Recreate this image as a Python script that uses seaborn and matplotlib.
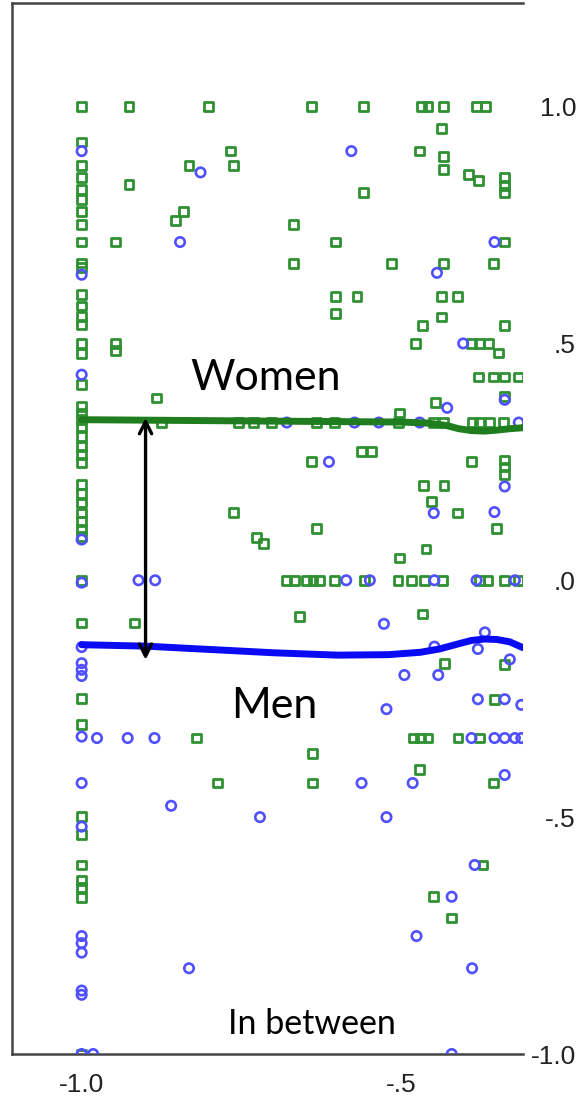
import numpy as np
import pandas as pd
import matplotlib
matplotlib.use("Agg")
import matplotlib.pyplot as plt
import seaborn as sns

# ---------------- data ----------------
# Women (green squares) stacked at x = -1.0
women_col_y = [1.0, 0.925, 0.875, 0.851, 0.825, 0.804, 0.779, 0.751, 0.714, 0.670,
               0.660, 0.603, 0.579, 0.557, 0.540, 0.500, 0.479, 0.413, 0.367, 0.353,
               0.339, 0.325, 0.304, 0.283, 0.265, 0.249, 0.202, 0.184, 0.163, 0.142,
               0.124, 0.107, 0.093, 0.0, -0.090, -0.249, -0.305, -0.499, -0.537,
               -0.601, -0.633, -0.648, -0.669, -1.0]
women_x = [-0.926, -0.802, -0.640, -0.559, -0.468, -0.458, -0.434, -0.382, -0.368,
           -0.437, -0.926, -0.947, -0.947, -0.947, -0.832, -0.767, -0.762, -0.841, -0.853,
           -0.669, -0.669, -0.471, -0.434, -0.434, -0.395, -0.379, -0.338, -0.338, -0.338,
           -0.559, -0.603, -0.338, -0.515, -0.434, -0.355, -0.603, -0.569, -0.603,
           -0.437, -0.412, -0.437, -0.467, -0.338, -0.477, -0.390, -0.377, -0.363, -0.348,
           -0.379, -0.356, -0.338, -0.317, -0.338, -0.446, -0.503, -0.883,
           -0.875, -0.754, -0.731, -0.703, -0.633, -0.604, -0.504, -0.449, -0.434, -0.388,
           -0.377, -0.362, -0.340,
           -0.562, -0.547, -0.640, -0.390, -0.338, -0.338, -0.338, -0.465, -0.433, -0.453,
           -0.412, -0.351, -0.632, -0.461, -0.503, -0.762, -0.726, -0.716,
           -0.680, -0.667, -0.648, -0.638, -0.628, -0.604, -0.557, -0.505, -0.484, -0.463,
           -0.435, -0.377, -0.364, -0.338, -0.317,
           -0.917, -0.659, -0.467, -0.432, -0.338, -0.354,
           -0.820, -0.481, -0.470, -0.458, -0.411, -0.378, -0.639, -0.471,
           -0.787, -0.639, -0.356, -0.372, -0.449, -0.421]
women_y = [1.0, 1.0, 1.0, 1.0, 1.0, 1.0, 1.0, 1.0, 1.0,
           0.953, 0.835, 0.714, 0.500, 0.485, 0.875, 0.906, 0.875, 0.779, 0.760,
           0.751, 0.668, 0.906, 0.895, 0.867, 0.856, 0.844, 0.851, 0.834, 0.818,
           0.818, 0.714, 0.714, 0.668, 0.668, 0.668, 0.599, 0.599, 0.563,
           0.599, 0.599, 0.556, 0.538, 0.538, 0.500, 0.500, 0.500, 0.500, 0.480,
           0.429, 0.429, 0.429, 0.429, 0.388, 0.376, 0.353, 0.385,
           0.333, 0.333, 0.333, 0.333, 0.333, 0.333, 0.333, 0.333, 0.333, 0.333,
           0.333, 0.333, 0.333,
           0.272, 0.272, 0.250, 0.250, 0.254, 0.239, 0.223, 0.200, 0.200, 0.167,
           0.142, 0.110, 0.110, 0.066, 0.047, 0.143, 0.091, 0.077,
           0.0, 0.0, 0.0, 0.0, 0.0, 0.0, 0.0, 0.0, 0.0, 0.0,
           0.0, 0.0, 0.0, 0.0, 0.0,
           -0.090, -0.076, -0.071, -0.175, -0.178, -0.251,
           -0.333, -0.333, -0.333, -0.333, -0.333, -0.333, -0.366, -0.400,
           -0.428, -0.428, -0.428, -0.601, -0.668, -0.713]

# Men (blue circles) stacked at x = -1.0
men_col_y = [0.906, 0.645, 0.434, 0.086, -0.005, -0.141, -0.175, -0.189, -0.202,
             -0.330, -0.428, -0.520, -0.751, -0.766, -0.786, -0.866, -0.875, -1.0]
men_x = [-0.814, -0.846, -0.578, -0.354, -0.444, -0.403, -0.338, -0.428,
         -0.679, -0.573, -0.535, -0.471, -0.316,
         -0.613, -0.338, -0.449, -0.354,
         -0.911, -0.885, -0.586, -0.549, -0.448, -0.382, -0.322,
         -0.527, -0.448, -0.380, -0.369, -0.330, -0.495, -0.442, -0.380, -0.338,
         -0.312, -0.523,
         -0.976, -0.928, -0.886, -0.390, -0.354, -0.338, -0.322, -0.312,
         -0.338, -0.562, -0.482, -0.860, -0.721, -0.523,
         -0.385, -0.421, -0.476, -0.832, -0.389, -0.982, -0.421]
men_y = [0.861, 0.714, 0.906, 0.714, 0.649, 0.500, 0.381, 0.364,
         0.333, 0.333, 0.333, 0.333, 0.333,
         0.250, 0.198, 0.142, 0.144,
         0.0, 0.0, 0.0, 0.0, 0.0, 0.0, 0.0,
         -0.092, -0.140, -0.145, -0.110, -0.167, -0.200, -0.200, -0.251, -0.251,
         -0.263, -0.272,
         -0.333, -0.333, -0.333, -0.333, -0.333, -0.333, -0.333, -0.333,
         -0.411, -0.428, -0.428, -0.476, -0.500, -0.500,
         -0.601, -0.668, -0.751, -0.819, -0.819, -1.0, -1.0]

# Fit lines (loess-like curves)
women_fit_x = [-1.0, -0.9, -0.8, -0.7, -0.6, -0.5, -0.46, -0.43, -0.41, -0.39,
               -0.37, -0.35, -0.33, -0.31]
women_fit_y = [0.339, 0.338, 0.337, 0.336, 0.335, 0.334, 0.332, 0.327, 0.320, 0.316,
               0.315, 0.317, 0.320, 0.322]
men_fit_x = [-1.0, -0.9, -0.8, -0.7, -0.6, -0.52, -0.47, -0.44, -0.41, -0.39,
             -0.37, -0.35, -0.33, -0.31]
men_fit_y = [-0.136, -0.139, -0.146, -0.153, -0.158, -0.157, -0.152, -0.145, -0.134,
             -0.127, -0.124, -0.125, -0.130, -0.142]

x_ticks = [-1.0, -0.5]
x_tick_labels = ["-1.0", "-.5"]
y_ticks = [1.0, 0.5, 0.0, -0.5, -1.0]
y_tick_labels = ["1.0", ".5", ".0", "-.5", "-1.0"]

# ---------------- build frames ----------------
women = pd.DataFrame({
    "x": [-1.0] * len(women_col_y) + women_x,
    "y": women_col_y + women_y,
})
men = pd.DataFrame({
    "x": [-1.0] * len(men_col_y) + men_x,
    "y": men_col_y + men_y,
})
women_fit = pd.DataFrame({"x": women_fit_x, "y": women_fit_y})
men_fit = pd.DataFrame({"x": men_fit_x, "y": men_fit_y})

sns.set_theme(style="white")
plt.rcParams["font.family"] = ["Liberation Sans", "DejaVu Sans"]

W, H = 577, 1102
fig = plt.figure(figsize=(W / 100, H / 100), dpi=100)
ax_left, ax_right = 12, 522.6
ax = fig.add_axes([ax_left / W, (H - 1054) / H, (ax_right - ax_left) / W, (1054 - 3.3) / H])

green_pt = "#2f9132"
blue_pt = "#5050ff"

sns.scatterplot(data=women, x="x", y="y", marker="s", s=40, ax=ax,
                color=green_pt, facecolor="none", edgecolor=green_pt,
                linewidth=2.0, zorder=3)
sns.scatterplot(data=men, x="x", y="y", marker="o", s=46, ax=ax,
                color=blue_pt, facecolor="none", edgecolor=blue_pt,
                linewidth=1.9, zorder=3)
for coll, c in zip(ax.collections, [green_pt, blue_pt]):
    coll.set_facecolor("none")
    coll.set_edgecolor(c)

sns.lineplot(data=women_fit, x="x", y="y", ax=ax, color="#1f7d1f",
             lw=5.0, estimator=None, sort=False, zorder=4)
sns.lineplot(data=men_fit, x="x", y="y", ax=ax, color="#0a0af5",
             lw=5.0, estimator=None, sort=False, zorder=4)
for ln in ax.lines:
    ln.set_solid_capstyle("round")
    ln.set_solid_joinstyle("round")

# double-headed arrow
ax.annotate("", xy=(-0.900, 0.343), xytext=(-0.900, -0.168),
            arrowprops=dict(arrowstyle="<->", color="black", lw=2.4,
                            mutation_scale=22, shrinkA=0, shrinkB=0),
            zorder=6)

txt_font = ["Lato", "DejaVu Sans"]
ax.text(-0.712, 0.428, "Women", fontsize=31, family=txt_font,
        ha="center", va="center", color="black", zorder=6)
ax.text(-0.698, -0.265, "Men", fontsize=31, family=txt_font,
        ha="center", va="center", color="black", zorder=6)
ax.text(-0.639, -0.937, "In between", fontsize=24.5, family=txt_font,
        ha="center", va="center", color="black", zorder=6)

ax.set_xlim(-1.109, -0.310)
ax.set_ylim(-1.0, 1.218)
ax.set_xticks(x_ticks)
ax.set_xticklabels(x_tick_labels)
ax.set_yticks(y_ticks)
ax.set_yticklabels(y_tick_labels)
ax.yaxis.tick_right()
# right-align the y labels against the figure's right edge
pad_pt = (576 - ax_right) * 72 / 100
ax.tick_params(axis="x", length=0, pad=14, labelsize=19, colors="#222222")
ax.tick_params(axis="y", length=0, pad=pad_pt, labelsize=19, colors="#222222")
for lab in ax.get_yticklabels():
    lab.set_horizontalalignment("right")
ax.set_xlabel("")
ax.set_ylabel("")

for side in ["left", "bottom", "top"]:
    ax.spines[side].set_visible(True)
    ax.spines[side].set_color("#444444")
    ax.spines[side].set_linewidth(1.8)
ax.spines["right"].set_visible(False)

fig.savefig("out.png", dpi=100)
